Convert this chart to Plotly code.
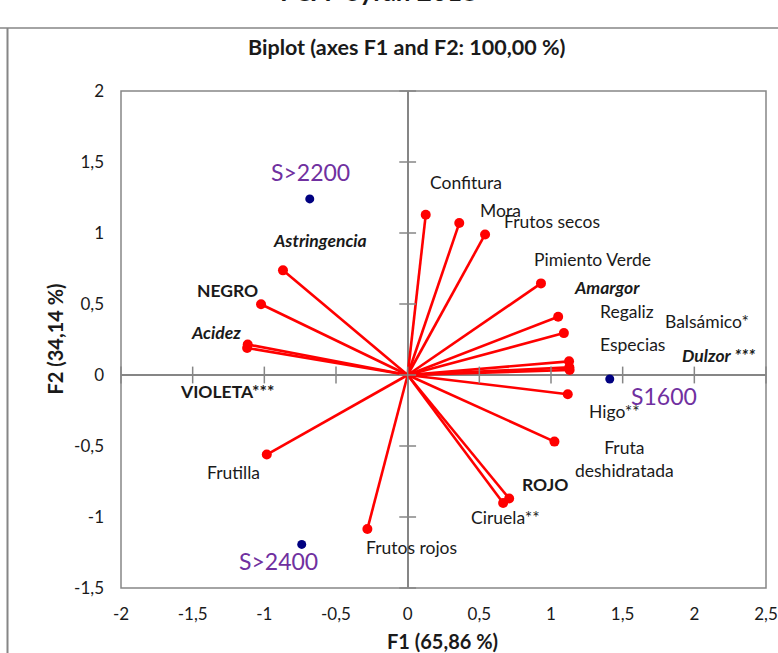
import plotly.graph_objects as go

# ---- data -------------------------------------------------------------
attr_names = ["Confitura", "Mora", "Frutos secos", "Pimiento Verde", "Amargor",
              "Regaliz", "Especias", "Balsámico*", "Dulzor ***", "Higo**",
              "Fruta<br>deshidratada", "ROJO", "Ciruela**", "Frutos rojos",
              "Frutilla", "Astringencia", "NEGRO", "Acidez", "VIOLETA***"]
attr_f1 = [0.126, 0.36, 0.54, 0.93, 1.05, 1.09, 1.126, 1.128, 1.13, 1.117,
           1.024, 0.708, 0.666, -0.281, -0.983, -0.870, -1.023, -1.116, -1.12]
attr_f2 = [1.128, 1.07, 0.99, 0.645, 0.41, 0.295, 0.096, 0.054, 0.035, -0.135,
           -0.469, -0.870, -0.902, -1.085, -0.560, 0.737, 0.498, 0.215, 0.19]

obs_names = ["S>2200", "S1600", "S>2400"]
obs_f1 = [-0.683, 1.41, -0.739]
obs_f2 = [1.240, -0.028, -1.193]

x_tickvals = [-2, -1.5, -1, -0.5, 0, 0.5, 1, 1.5, 2, 2.5]
x_ticktext = ["-2", "-1,5", "-1", "-0,5", "0", "0,5", "1", "1,5", "2", "2,5"]
y_tickvals = [-1.5, -1, -0.5, 0, 0.5, 1, 1.5, 2]
y_ticktext = ["-1,5", "-1", "-0,5", "0", "0,5", "1", "1,5", "2"]

# ---- styling ----------------------------------------------------------
W, H = 778, 653
L, R, T, B = 121, 12, 91, 65
FONT = "Lato"
GRAY = "#868686"
TXT = "#1a1a1a"

# text styling per variable label and pixel offsets of each label
attr_style = {
    "Astringencia": "bi", "Amargor": "bi", "Acidez": "bi", "Dulzor ***": "bi",
    "NEGRO": "b", "VIOLETA***": "b", "ROJO": "b",
}
attr_offset = {
    "Confitura": (40, 32), "Mora": (41, 13), "Frutos secos": (67, 13),
    "Pimiento Verde": (52, 24), "Amargor": (49, 29), "Regaliz": (63, 22),
    "Especias": (63, 17), "Balsámico*": (138, 46), "Dulzor ***": (149, 15),
    "Higo**": (47, -17), "Fruta<br>deshidratada": (70, -17), "ROJO": (36, 14),
    "Ciruela**": (2, -14), "Frutos rojos": (44, -18), "Frutilla": (-33, -18),
    "Astringencia": (37, 30), "NEGRO": (-34, 14), "Acidez": (-32, 12),
    "VIOLETA***": (-20, -43),
}
obs_offset = {"S>2200": (1, 27), "S1600": (54, -17), "S>2400": (-23, -17)}

fig = go.Figure()

# vectors from the origin
lx, ly = [], []
for a, b in zip(attr_f1, attr_f2):
    lx += [0, a, None]
    ly += [0, b, None]
fig.add_trace(go.Scatter(x=lx, y=ly, mode="lines",
                         line=dict(color="#FF0000", width=2.6),
                         hoverinfo="skip", showlegend=False))

# tick marks crossing the zero axes
fig.add_trace(go.Scatter(x=[0] * len(y_tickvals), y=y_tickvals, mode="markers",
                         marker=dict(symbol="line-ew", size=12,
                                     line=dict(color=GRAY, width=1.5)),
                         hoverinfo="skip", showlegend=False, cliponaxis=False))
fig.add_trace(go.Scatter(x=x_tickvals, y=[0] * len(x_tickvals), mode="markers",
                         marker=dict(symbol="line-ns", size=12,
                                     line=dict(color=GRAY, width=1.5)),
                         hoverinfo="skip", showlegend=False, cliponaxis=False))

fig.add_trace(go.Scatter(x=attr_f1, y=attr_f2, mode="markers",
                         marker=dict(color="#FF0000", size=10),
                         text=attr_names, showlegend=False))
fig.add_trace(go.Scatter(x=obs_f1, y=obs_f2, mode="markers",
                         marker=dict(color="#000080", size=9),
                         text=obs_names, showlegend=False))

annotations = []
for name, a, b in zip(attr_names, attr_f1, attr_f2):
    st = attr_style.get(name, "")
    txt = name
    if "i" in st:
        txt = "<i>" + txt + "</i>"
    if "b" in st:
        txt = "<b>" + txt + "</b>"
    dx, dy = attr_offset[name]
    annotations.append(dict(x=a, y=b, xref="x", yref="y", text=txt,
                            showarrow=False, xshift=dx, yshift=dy,
                            xanchor="center", yanchor="middle",
                            font=dict(family=FONT, size=17.5, color=TXT),
                            align="center"))
for name, a, b in zip(obs_names, obs_f1, obs_f2):
    dx, dy = obs_offset[name]
    annotations.append(dict(x=a, y=b, xref="x", yref="y", text=name,
                            showarrow=False, xshift=dx, yshift=dy,
                            xanchor="center", yanchor="middle",
                            font=dict(family=FONT, size=23, color="#7030A0")))


def px_x(p):
    return (p - L) / (W - L - R)


def px_y(p):
    return 1 - (p - T) / (H - T - B)


# chart title, axis titles, and the heading above the frame
annotations += [
    dict(x=px_x(407), y=px_y(47), xref="paper", yref="paper", showarrow=False,
         xanchor="center", yanchor="middle",
         text="<b>Biplot (axes F1 and F2: 100,00 %)</b>",
         font=dict(family=FONT, size=21.5, color=TXT)),
    dict(x=px_x(442), y=px_y(641), xref="paper", yref="paper", showarrow=False,
         xanchor="center", yanchor="middle",
         text="<b>F1 (65,86 %)</b>", font=dict(family=FONT, size=20, color=TXT)),
    dict(x=px_x(54.5), y=px_y(339), xref="paper", yref="paper", showarrow=False,
         xanchor="center", yanchor="middle",
         text="<b>F2 (34,14 %)</b>", textangle=-90,
         font=dict(family=FONT, size=20, color=TXT)),
    dict(x=px_x(378), y=px_y(9), xref="paper", yref="paper", showarrow=False,
         xanchor="center", yanchor="bottom", text="<b>FCA- Syrah 2018</b>",
         font=dict(family=FONT, size=26, color=TXT)),
]

shapes = [
    # outer frame (top and left edges)
    dict(type="line", xref="paper", yref="paper", x0=px_x(0), x1=px_x(W),
         y0=px_y(28), y1=px_y(28), line=dict(color=GRAY, width=1.5)),
    dict(type="line", xref="paper", yref="paper", x0=px_x(7.5), x1=px_x(7.5),
         y0=px_y(28), y1=px_y(H), line=dict(color=GRAY, width=2)),
    # plot border
    dict(type="rect", xref="paper", yref="paper", x0=0, x1=1, y0=0, y1=1,
         line=dict(color=GRAY, width=1.5), layer="below"),
]

fig.update_layout(
    width=W, height=H, autosize=False,
    margin=dict(l=L, r=R, t=T, b=B, pad=0, autoexpand=False),
    paper_bgcolor="white", plot_bgcolor="white",
    font=dict(family=FONT, color=TXT),
    annotations=annotations, shapes=shapes,
    xaxis=dict(range=[-2, 2.5], tickvals=x_tickvals, ticktext=x_ticktext,
               automargin=False,
               showgrid=False, zeroline=True, zerolinecolor=GRAY, zerolinewidth=1.5,
               showline=False, ticks="", ticklabelstandoff=14,
               tickfont=dict(family=FONT, size=17, color=TXT)),
    yaxis=dict(range=[-1.5, 2], tickvals=y_tickvals, ticktext=y_ticktext,
               automargin=False,
               showgrid=False, zeroline=True, zerolinecolor=GRAY, zerolinewidth=1.5,
               showline=False, ticks="", ticklabelstandoff=16,
               tickfont=dict(family=FONT, size=17, color=TXT)),
)

fig.write_html("out.html", config={"responsive": False})
